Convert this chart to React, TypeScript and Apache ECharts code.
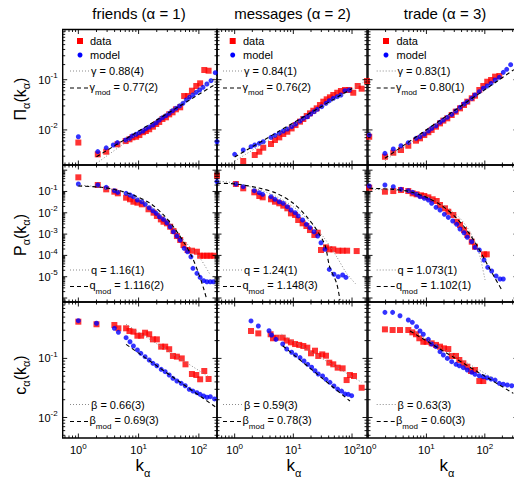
import React, { useEffect, useRef } from 'react';
import * as echarts from 'echarts';

type Pt = [number, number];

// ---------- texts ----------
const columnTitles = ['friends (α = 1)', 'messages (α = 2)', 'trade (α = 3)'];
const rowSymbols = ['Π', 'P', 'c'];
const exponentSymbols = ['γ', 'q', 'β'];
const fitValues = [
  ['0.88(4)', '0.84(1)', '0.83(1)'],
  ['1.16(1)', '1.24(1)', '1.073(1)'],
  ['0.66(3)', '0.59(3)', '0.63(3)'],
];
const fitModValues = [
  ['0.77(2)', '0.76(2)', '0.80(1)'],
  ['1.116(2)', '1.148(3)', '1.102(1)'],
  ['0.69(3)', '0.78(3)', '0.60(3)'],
];

// ---------- axes ----------
const xRanges: Pt[] = [[0.55, 200], [0.5, 180], [1, 370]];
const yRanges: Pt[] = [[0.002, 1], [6.5e-7, 1.75], [0.0045, 0.9]];
const xLabelExps = [0, 1, 2];
const yLabelExps = [[-1, -2], [-1, -2, -3, -4, -5], [-1, -2]];

// ---------- row 1: Pi(k) ----------
const friendsPiData: Pt[] = [[1.0,0.0056],[2.1,0.00326],[2.9,0.00368],[4.45,0.00516],[6.1,0.006],[7.05,0.0065],[7.9,0.0071],[9.1,0.0073],[10.3,0.0079],[11.8,0.009],[13.2,0.0095],[15,0.0103],[17.3,0.0116],[19.6,0.0131],[22,0.0144],[24.9,0.0165],[28.4,0.0178],[32.2,0.0204],[36.6,0.0224],[41.6,0.0257],[49,0.0282],[57,0.0473],[65.9,0.0473],[76.7,0.0604],[90.6,0.075],[105,0.0847],[123,0.156],[145,0.151]];
const friendsPiModel: Pt[] = [[1.0,0.0073],[2.1,0.0037],[2.9,0.0044],[3.8,0.005],[4.45,0.0056],[6.1,0.0063],[7.05,0.0068],[7.9,0.0076],[9.1,0.0082],[10.3,0.0088],[11.8,0.0095],[13.2,0.0106],[15,0.0114],[17.3,0.0125],[19.6,0.0139],[22,0.0157],[24.9,0.0175],[28.4,0.0192],[32.2,0.0214],[36.6,0.0241],[41.6,0.0269],[47.8,0.03],[54.4,0.0339],[61.7,0.0394],[70,0.0446],[79.8,0.0496],[90.6,0.056],[103,0.0623],[117,0.0706],[136,0.082],[159,0.0955],[187,0.138]];
const friendsPiFit: Pt[] = [[2.0,0.00216],[200,0.115]];
const friendsPiFitMod: Pt[] = [[2.0,0.00292],[200,0.0848]];

const messagesPiData: Pt[] = [[1.4,0.0024],[2.2,0.00316],[2.63,0.00368],[3.07,0.00442],[4.16,0.00524],[4.86,0.0063],[5.76,0.0071],[6.74,0.0083],[7.9,0.0092],[9.35,0.0107],[10.9,0.0125],[13,0.0146],[14.8,0.0165],[16.9,0.0189],[19.2,0.0214],[21.9,0.0241],[25,0.0269],[28.4,0.0313],[32.4,0.0365],[37,0.0407],[42,0.0446],[47.9,0.0496],[56,0.055],[64.7,0.0596],[75.8,0.0623],[89.7,0.0623],[105,0.055],[125,0.075],[146,0.0662],[180,0.094]];
const messagesPiModel: Pt[] = [[0.5,0.0058],[1.0,0.00326],[1.4,0.00398],[1.9,0.00463],[2.2,0.005],[2.63,0.0054],[3.07,0.0058],[4.16,0.0071],[4.86,0.0078],[5.76,0.0086],[6.74,0.0095],[7.9,0.0104],[9.35,0.0116],[10.9,0.0131],[13,0.015],[14.8,0.017],[17.3,0.0183],[19.7,0.0207],[22.5,0.0231],[25.6,0.0257],[30.4,0.029],[36,0.0339],[41,0.0382],[47.9,0.0426],[56,0.0459],[64.7,0.0496],[75.8,0.0604],[89.7,0.0623]];
const messagesPiFit: Pt[] = [[1.0,0.0024],[180,0.0986]];
const messagesPiFitMod: Pt[] = [[1.0,0.00288],[100,0.0665]];

const tradePiData: Pt[] = [[1.05,0.0073],[1.95,0.00292],[2.71,0.00351],[3.67,0.00398],[4.9,0.00484],[6.64,0.0061],[7.77,0.0068],[9.2,0.0079],[10.8,0.009],[12.3,0.01],[14.6,0.0116],[17.1,0.0135],[19.5,0.0153],[22.8,0.017],[27.1,0.0198],[31.8,0.0231],[37.6,0.0269],[44,0.0313],[50.1,0.0365],[59.7,0.0426],[68,0.048],[80.5,0.0623],[94.2,0.075],[110,0.0912],[128,0.0986],[150,0.115],[177,0.1185]];
const tradePiModel: Pt[] = [[1.05,0.0079],[1.95,0.00342],[2.71,0.00417],[3.67,0.00484],[4.9,0.00556],[6.64,0.0068],[7.77,0.0073],[9.2,0.0083],[10.8,0.0095],[12.3,0.0108],[14.6,0.0121],[17.1,0.0142],[19.5,0.0157],[22.8,0.0178],[27.1,0.0204],[31.8,0.0238],[37.6,0.0282],[44,0.0328],[50.1,0.0365],[59.7,0.0426],[68,0.0496],[80.5,0.0577],[94.2,0.0675],[110,0.075],[128,0.0847],[150,0.0986],[177,0.1117],[207,0.14],[237,0.161],[277,0.199]];
const tradePiFit: Pt[] = [[1.95,0.00243],[200,0.109]];
const tradePiFitMod: Pt[] = [[1.95,0.00272],[316,0.159]];

// ---------- row 2: P(k) ----------
const friendsPData: Pt[] = [[1.0,0.462],[2.1,0.201],[2.9,0.126],[3.96,0.0977],[4.52,0.082],[6.2,0.051],[7.2,0.043],[8.2,0.0331],[9.55,0.0297],[11.3,0.025],[14.6,0.0146],[17.7,0.0101],[20.1,0.0071],[23.4,0.0049],[25.9,0.0038],[29.5,0.0032],[33.4,0.00222],[37.9,0.00139],[43.2,0.00081],[49,0.00053],[55.6,0.000307],[64.9,0.000179],[76.7,0.000166],[92.9,0.000149],[105,0.0000966],[120,0.0000966],[136,0.0000966],[155,0.0000966],[175,0.0000966]];
const friendsPModel: Pt[] = [[1.0,0.224],[2.1,0.201],[2.9,0.157],[3.96,0.109],[4.52,0.0914],[6.2,0.082],[7.2,0.0684],[8.2,0.0569],[9.55,0.0398],[11.3,0.0331],[12.9,0.025],[15,0.0173],[17.3,0.0125],[19.6,0.0094],[22.2,0.0065],[25.9,0.0049],[29.5,0.0034],[33.4,0.00222],[37.9,0.00129],[43.2,0.00081],[49,0.00053],[57,0.000215],[64.9,0.000149],[73.8,0.0000867],[79.8,0.0000247],[92.9,0.0000144],[105,0.0000093],[120,0.0000065],[136,0.0000058],[155,0.0000058],[175,0.0000058]];
const friendsPFit: Pt[] = [[1.0,0.201],[2.0,0.168],[4.35,0.109],[8.2,0.0569],[15.6,0.0208],[29.5,0.00458],[49,0.00081],[71.9,0.000239],[105,0.000073],[155,0.000012]];
const friendsPFitMod: Pt[] = [[1.0,0.181],[2.4,0.157],[4.35,0.117],[8.2,0.0684],[15.6,0.0279],[25.9,0.0079],[37.9,0.00222],[55.6,0.00044],[76.7,0.000087],[98.9,0.0000144],[120,0.0000028],[136,0.0000008]];

const messagesPData: Pt[] = [[0.5,0.55],[1.05,0.224],[1.4,0.141],[2.16,0.0914],[2.63,0.0614],[3.0,0.0532],[4.16,0.043],[4.86,0.0331],[5.76,0.0279],[6.74,0.0216],[7.9,0.0162],[9.1,0.0094],[10.7,0.0079],[12.1,0.00458],[14.4,0.0032],[16.7,0.0024],[19.2,0.00155],[22.8,0.00091],[26,0.00116],[29.6,0.000179],[36,0.000239],[41,0.000193],[47.9,0.000193],[58.3,0.000166],[69.2,0.000166],[82.5,0.000166],[120,0.00016]];
const messagesPModel: Pt[] = [[0.5,0.288],[1.05,0.224],[1.4,0.168],[2.16,0.109],[2.63,0.0877],[3.0,0.0736],[4.16,0.0569],[4.86,0.043],[5.76,0.0331],[6.74,0.0279],[7.9,0.0193],[9.1,0.0135],[10.7,0.0101],[12.1,0.0071],[14.4,0.00458],[16.7,0.00288],[19.2,0.002],[22.5,0.00129],[26,0.00081],[29.6,0.000394],[34.6,0.000193],[41,0.000022],[49.2,0.000013],[58.3,0.00001],[69.2,0.000012],[78.8,0.0000093]];
const messagesPFit: Pt[] = [[0.5,0.31],[1.08,0.242],[2.7,0.117],[5.2,0.0569],[10,0.0193],[19.2,0.0038],[32.4,0.00075],[54.7,0.000087],[81,0.0000144],[120,0.0000041]];
const messagesPFitMod: Pt[] = [[0.5,0.242],[1.08,0.224],[2.7,0.141],[5.2,0.082],[10,0.0279],[17,0.0065],[25,0.00155],[34.6,0.000307],[41.6,0.000029],[54.7,0.0000049],[62.2,0.0000008]];

const tradePData: Pt[] = [[1.05,0.151],[1.95,0.0977],[2.71,0.105],[3.67,0.117],[4.9,0.105],[5.8,0.082],[6.8,0.0736],[8.1,0.066],[9.2,0.0614],[10.8,0.0532],[12.8,0.043],[15,0.0357],[17.1,0.0232],[20.8,0.0162],[23.7,0.0112],[28.9,0.0079],[33,0.0038],[37.6,0.00267],[44,0.00155],[50.1,0.00091],[59.7,0.00044],[68,0.000255],[96.9,0.000112],[108,0.000112]];
const tradePModel: Pt[] = [[1.05,0.181],[1.95,0.201],[2.71,0.168],[3.67,0.126],[4.9,0.109],[5.8,0.0914],[6.8,0.0736],[7.77,0.0569],[9.2,0.0477],[10.8,0.0398],[12.3,0.0279],[14.6,0.0181],[17.1,0.0135],[20.3,0.0085],[23.7,0.0061],[28.2,0.0041],[33,0.00288],[37.6,0.00173],[44,0.00116],[50.1,0.00071],[59.7,0.00044],[68,0.000239],[80.5,0.000179],[96.9,0.000061],[112,0.0000275],[131,0.0000185],[156,0.0000108],[182,0.0000078],[207,0.0000078]];
const tradePFit: Pt[] = [[1.05,0.126],[2.71,0.117],[5.24,0.0977],[10.1,0.0569],[19.5,0.0232],[33,0.0079],[49,0.00222],[68,0.00044],[82.8,0.000087],[101,0.000007]];
const tradePFitMod: Pt[] = [[1.05,0.141],[2.71,0.126],[5.24,0.0977],[10.1,0.0532],[19.5,0.0193],[33,0.0055],[49,0.00155],[72.6,0.000307],[108,0.000042],[150,0.0000084],[195,0.0000024]];

// ---------- row 3: c(k) ----------
const friendsCData: Pt[] = [[1.0,0.418],[2.0,0.378],[3.96,0.367],[4.62,0.323],[6.2,0.323],[7.05,0.291],[8.2,0.283],[9.55,0.242],[11.0,0.242],[12.8,0.272],[15,0.256],[17.3,0.21],[20.1,0.21],[23.7,0.158],[27.6,0.158],[32.2,0.143],[37.1,0.11],[43.2,0.107],[52,0.1],[60,0.0794],[76.7,0.0545],[90.6,0.0524],[105,0.0443],[123,0.0612],[145,0.0448]];
const friendsCModel: Pt[] = [[1.0,0.435],[2.0,0.393],[3.96,0.323],[4.62,0.276],[6.2,0.224],[7.2,0.191],[8.2,0.162],[9.55,0.139],[10.9,0.122],[12.8,0.107],[15,0.094],[17.3,0.0826],[20.1,0.0752],[23.7,0.0653],[27.6,0.0596],[32.2,0.0524],[37.1,0.046],[43.2,0.0414],[51,0.0379],[59.4,0.0345],[69.2,0.03],[79.8,0.028],[92.9,0.0263],[105,0.0247],[120,0.0231],[136,0.022],[155,0.0225],[182,0.0206]];
const friendsCFit: Pt[] = [[6.2,0.378],[145,0.049]];
const friendsCFitMod: Pt[] = [[6.2,0.173],[187,0.0152]];

const messagesCData: Pt[] = [[1.9,0.291],[2.53,0.265],[4.1,0.256],[4.5,0.219],[5.2,0.224],[6.58,0.224],[7.7,0.2],[9.1,0.187],[10.7,0.175],[12.6,0.169],[14.8,0.162],[17.3,0.152],[20,0.122],[23.4,0.135],[26.6,0.11],[31.1,0.117],[36,0.111],[41,0.0846],[47.9,0.0794],[56.9,0.0697],[69.2,0.0679],[80.9,0.043],[92.2,0.0524],[108,0.0504],[146,0.0319]];
const messagesCModel: Pt[] = [[1.9,0.43],[2.53,0.353],[3.85,0.294],[4.25,0.249],[5.06,0.21],[6.58,0.175],[7.7,0.144],[9.35,0.127],[10.9,0.114],[13,0.103],[15.2,0.0904],[17.6,0.0794],[20.5,0.0708],[23.4,0.0619],[26.6,0.0545],[31.5,0.0504],[36,0.0443],[42,0.0394],[49.2,0.0341],[56.9,0.0303],[66.5,0.028],[75.8,0.025],[86.3,0.0247],[98.6,0.0234]];
const messagesCFit: Pt[] = [[6.3,0.256],[146,0.0394]];
const messagesCFitMod: Pt[] = [[6.58,0.164],[92.2,0.019]];

const tradeCData: Pt[] = [[1.95,0.31],[2.64,0.302],[3.53,0.302],[4.9,0.302],[5.74,0.276],[6.64,0.256],[7.57,0.219],[8.85,0.191],[10.1,0.191],[12.3,0.18],[14.6,0.169],[17.1,0.158],[20,0.148],[23.7,0.144],[27.1,0.11],[32.1,0.11],[36.6,0.094],[42.9,0.0826],[50.1,0.0724],[58,0.0612],[68,0.0637],[80.5,0.0414],[94.2,0.0414]];
const tradeCModel: Pt[] = [[1.95,0.601],[2.64,0.601],[3.53,0.527],[4.9,0.446],[5.74,0.408],[6.8,0.344],[7.77,0.291],[8.85,0.256],[10.8,0.21],[12.3,0.175],[14.6,0.158],[17.1,0.13],[19.5,0.114],[22.8,0.1],[27.1,0.088],[32.1,0.0794],[36.6,0.0752],[42.9,0.0697],[50.1,0.0637],[59.7,0.0582],[68,0.0538],[80.5,0.0509],[94.2,0.049],[110,0.0471],[128,0.0448],[150,0.043],[177,0.0379],[207,0.0365],[243,0.0355],[289,0.0345]];
const tradeCFit: Pt[] = [[5.24,0.31],[140,0.046]];
const tradeCFitMod: Pt[] = [[5.24,0.291],[308,0.0256]];

const panels = [
  [friendsPiData, friendsPiModel, friendsPiFit, friendsPiFitMod],
  [messagesPiData, messagesPiModel, messagesPiFit, messagesPiFitMod],
  [tradePiData, tradePiModel, tradePiFit, tradePiFitMod],
  [friendsPData, friendsPModel, friendsPFit, friendsPFitMod],
  [messagesPData, messagesPModel, messagesPFit, messagesPFitMod],
  [tradePData, tradePModel, tradePFit, tradePFitMod],
  [friendsCData, friendsCModel, friendsCFit, friendsCFitMod],
  [messagesCData, messagesCModel, messagesCFit, messagesCFitMod],
  [tradeCData, tradeCModel, tradeCFit, tradeCFitMod],
];

// ---------- layout ----------
const COL_LEFT = [62.7, 217, 368];
const COL_W = [154.3, 150, 150];
const ROW_TOP = [29.5, 165, 302];
const ROW_H = [135.5, 137, 136];
const FONT = '"Liberation Sans", Arial, Helvetica, sans-serif';

const labelRich = {
  b: { fontSize: 11, fontFamily: FONT, color: '#000' },
  s: { fontSize: 8, fontFamily: FONT, color: '#000', padding: [0, 0, 8, 0] },
};

const makeFormatter = (allowed: number[]) => (v: number) => {
  const l = Math.log10(v);
  const e = Math.round(l);
  if (Math.abs(l - e) > 1e-6 || allowed.indexOf(e) < 0) return '';
  return `{b|10}{s|${e}}`;
};

function tickItems(xr: Pt, yr: Pt) {
  const items: number[][] = [];
  const xm = Math.sqrt(xr[0] * xr[1]);
  const ym = Math.sqrt(yr[0] * yr[1]);
  const gen = (r: Pt, cb: (v: number, mj: number) => void) => {
    for (let e = Math.floor(Math.log10(r[0])); e <= Math.ceil(Math.log10(r[1])); e++) {
      for (let m = 1; m <= 9; m++) {
        const v = m * Math.pow(10, e);
        if (v >= r[0] * 0.999 && v <= r[1] * 1.001) cb(v, m === 1 ? 1 : 0);
      }
    }
  };
  gen(xr, (v, mj) => items.push([v, ym, mj, 0]));
  gen(yr, (v, mj) => items.push([xm, v, mj, 1]));
  return items;
}

function txt(x: number, y: number, text: string, fontSize: number, extra: any = {}) {
  return {
    type: 'text', x, y, z: 100, ...extra,
    style: {
      text, fontSize, fontFamily: FONT, fill: '#000',
      align: extra.align || 'left', verticalAlign: 'middle',
      textAlign: extra.align || 'left', textVerticalAlign: 'middle',
      rich: extra.rich,
    },
  };
}

function buildOption() {
  const grid: any[] = [];
  const xAxis: any[] = [];
  const yAxis: any[] = [];
  const series: any[] = [];
  for (let r = 0; r < 3; r++) {
    for (let c = 0; c < 3; c++) {
      const p = r * 3 + c;
      grid.push({
        left: COL_LEFT[c], top: ROW_TOP[r], width: COL_W[c], height: ROW_H[r],
        show: true, borderColor: '#000', borderWidth: 1.4, backgroundColor: 'transparent',
        containLabel: false, outerBoundsMode: 'none',
      });
      xAxis.push({
        type: 'log', logBase: 10, gridIndex: p, min: xRanges[c][0], max: xRanges[c][1], splitNumber: 10,
        axisLine: { show: false }, axisTick: { show: false }, splitLine: { show: false },
        axisLabel: {
          show: r === 2, interval: 0, margin: 4, hideOverlap: false,
          formatter: makeFormatter(xLabelExps), rich: labelRich, color: '#000',
        },
      });
      yAxis.push({
        type: 'log', logBase: 10, gridIndex: p, min: yRanges[r][0], max: yRanges[r][1], splitNumber: 10,
        axisLine: { show: false }, axisTick: { show: false }, splitLine: { show: false },
        axisLabel: {
          show: c === 0, interval: 0, margin: 5, hideOverlap: false,
          formatter: makeFormatter(yLabelExps[r]), rich: labelRich, color: '#000',
        },
      });
      const [data, model, fit, fitMod] = panels[p];
      const smooth = r === 1 ? 0.3 : false;
      series.push({
        type: 'scatter', xAxisIndex: p, yAxisIndex: p, data, symbol: 'rect', symbolSize: 6,
        itemStyle: { color: '#ff0000' }, clip: false, silent: true, z: 2,
      });
      series.push({
        type: 'scatter', xAxisIndex: p, yAxisIndex: p, data: model, symbol: 'circle', symbolSize: 5,
        itemStyle: { color: '#0000ff' }, clip: false, silent: true, z: 3,
      });
      series.push({
        type: 'line', xAxisIndex: p, yAxisIndex: p, data: fit, symbol: 'none', smooth,
        lineStyle: { color: '#8a8a8a', width: 1, type: [1, 2] }, silent: true, z: 4, clip: true,
      });
      series.push({
        type: 'line', xAxisIndex: p, yAxisIndex: p, data: fitMod, symbol: 'none', smooth,
        lineStyle: { color: '#000', width: 1.1, type: [4, 3] }, silent: true, z: 4, clip: true,
      });
      series.push({
        type: 'custom', xAxisIndex: p, yAxisIndex: p, silent: true, z: 5,
        data: tickItems(xRanges[c], yRanges[r]),
        encode: { x: 0, y: 1 },
        renderItem: (params: any, api: any) => {
          const cs = params.coordSys;
          const pt = api.coord([api.value(0), api.value(1)]);
          const len = api.value(2) === 1 ? 4.5 : 2.5;
          const st = { stroke: '#000', lineWidth: 0.9 };
          if (api.value(3) === 0) {
            const x = pt[0];
            const top = cs.y;
            const bot = cs.y + cs.height;
            return {
              type: 'group',
              children: [
                { type: 'line', shape: { x1: x, y1: bot, x2: x, y2: bot - len }, style: st },
                { type: 'line', shape: { x1: x, y1: top, x2: x, y2: top + len }, style: st },
              ],
            };
          }
          const y = pt[1];
          const left = cs.x;
          const right = cs.x + cs.width;
          return {
            type: 'group',
            children: [
              { type: 'line', shape: { x1: left, y1: y, x2: left + len, y2: y }, style: st },
              { type: 'line', shape: { x1: right, y1: y, x2: right - len, y2: y }, style: st },
            ],
          };
        },
      });
    }
  }

  const graphic: any[] = [];
  const titleX = [139, 292.5, 445];
  columnTitles.forEach((t, c) => graphic.push(txt(titleX[c], 13.5, t, 15, { align: 'center' })));

  const kRich = {
    m: { fontSize: 17, fontFamily: FONT, color: '#000' },
    s: { fontSize: 11, fontFamily: FONT, color: '#000', padding: [16, 0, 0, 0] },
  };
  const kX = [143, 294, 447];
  kX.forEach((x) => graphic.push(txt(x, 465, '{m|k}{s|α}', 17, { align: 'center', rich: kRich })));

  const yNameY = [99, 235, 375];
  const yRich = {
    m: { fontSize: 16, fontFamily: FONT, color: '#000' },
    s: { fontSize: 11, fontFamily: FONT, color: '#000', padding: [12, 0, 0, 0] },
  };
  rowSymbols.forEach((sym, r) =>
    graphic.push(txt(20, yNameY[r], `{m|${sym}}{s|α}{m|(k}{s|α}{m|)}`, 16, {
      align: 'center', rotation: Math.PI / 2, rich: yRich,
    })),
  );

  const markerX = [80, 232.7, 386];
  const lineX0 = [70, 223, 376.7];
  const textX = [91, 244, 397.5];
  const dotY = [71, 270, 404.5];
  const dashY = [88, 286.5, 421.5];
  const legRich = {
    a: { fontSize: 11, fontFamily: FONT, color: '#000' },
    s: { fontSize: 8, fontFamily: FONT, color: '#000', padding: [12, 0, 0, 0] },
  };
  for (let c = 0; c < 3; c++) {
    graphic.push({ type: 'rect', z: 100, shape: { x: markerX[c] - 3, y: 38, width: 6, height: 6 }, style: { fill: '#ff0000' } });
    graphic.push(txt(textX[c] - 1, 41, 'data', 11));
    graphic.push({ type: 'circle', z: 100, shape: { cx: markerX[c], cy: 55, r: 2.5 }, style: { fill: '#0000ff' } });
    graphic.push(txt(textX[c] - 1, 55, 'model', 11));
    for (let r = 0; r < 3; r++) {
      graphic.push({
        type: 'line', z: 100, shape: { x1: lineX0[c], y1: dotY[r], x2: lineX0[c] + 20, y2: dotY[r] },
        style: { stroke: '#8a8a8a', lineWidth: 1, lineDash: [1, 2] },
      });
      graphic.push(txt(textX[c], dotY[r], `${exponentSymbols[r]} = ${fitValues[r][c]}`, 11));
      graphic.push({
        type: 'line', z: 100, shape: { x1: lineX0[c], y1: dashY[r], x2: lineX0[c] + 18, y2: dashY[r] },
        style: { stroke: '#000', lineWidth: 1.1, lineDash: [4, 3] },
      });
      graphic.push(
        txt(textX[c] - 1.5, dashY[r] - 1.5, `{a|${exponentSymbols[r]}}{s|mod}{a| = ${fitModValues[r][c]}}`, 11, { rich: legRich }),
      );
    }
  }

  return {
    animation: false,
    backgroundColor: '#ffffff',
    textStyle: { fontFamily: FONT },
    grid, xAxis, yAxis, series, graphic,
  };
}

export default function App() {
  const ref = useRef<HTMLDivElement>(null);
  useEffect(() => {
    if (!ref.current) return;
    const chart = echarts.init(ref.current, undefined, { renderer: 'svg' });
    chart.setOption(buildOption() as any);
    return () => chart.dispose();
  }, []);
  return <div ref={ref} style={{ position: 'absolute', left: 0, top: 0, width: 514, height: 479 }} />;
}
